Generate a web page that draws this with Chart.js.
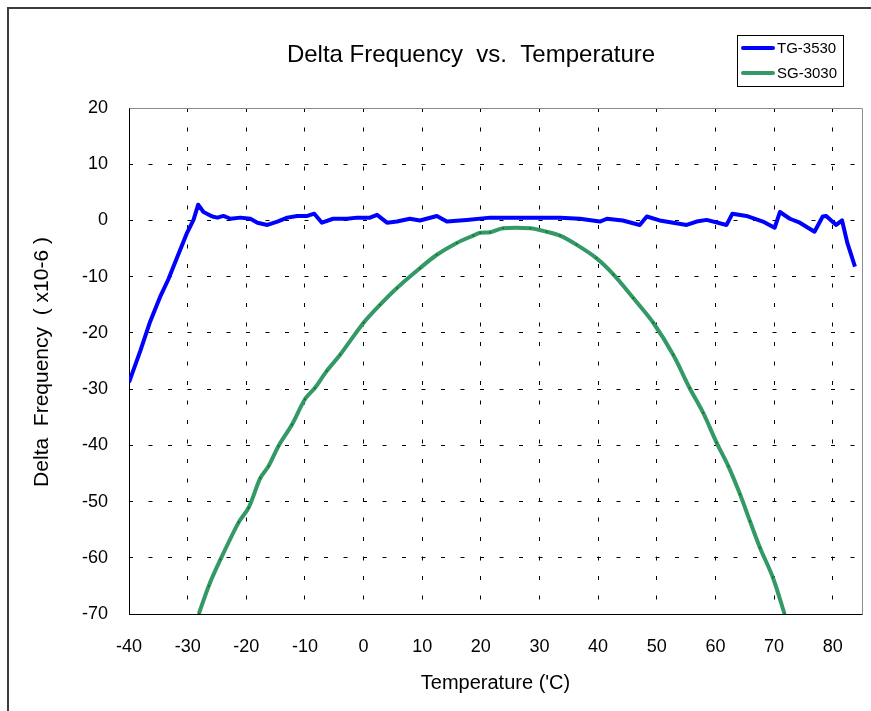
<!DOCTYPE html>
<html>
<head>
<meta charset="utf-8">
<script src="https://cdn.jsdelivr.net/npm/chart.js@4.4.1/dist/chart.umd.min.js"></script>
<style>
  html, body { margin: 0; padding: 0; background: #fff; }
  #wrap { width: 871px; height: 711px; }
</style>
</head>
<body>
<div id="wrap"><canvas id="chart" width="871" height="711"></canvas></div>
<script>
// TG-3530 readings
const tgTemp = [-40, -38.1, -36.4, -34.7, -33.3, -31.8, -30.1, -29.0, -28.2, -27.3,
    -25.8, -24.9, -23.9, -22.7, -21.0, -19.3, -18.1, -16.4, -14.7, -13.0,
    -11.3, -9.6, -8.4, -7.1, -5.2, -2.8, -1.1, 1.1, 2.3, 4.0,
    5.7, 7.9, 9.6, 12.5, 14.2, 17.6, 21.6, 25.0, 30.1, 33.5,
    36.9, 40.3, 41.5, 44.2, 47.1, 48.3, 50.5, 55.1, 56.8, 58.5,
    61.9, 62.9, 65.3, 68.1, 70.1, 71.0, 72.7, 74.4, 76.9, 78.3,
    78.9, 80.6, 81.6, 82.5, 83.8];
const tgFreq = [-28.8, -23.3, -18.0, -13.6, -10.5, -6.6, -2.2, 0.1, 2.8, 1.5,
    0.7, 0.5, 0.8, 0.3, 0.5, 0.3, -0.4, -0.8, -0.2, 0.5,
    0.8, 0.8, 1.2, -0.4, 0.3, 0.3, 0.5, 0.5, 1.0, -0.4,
    -0.2, 0.3, 0.0, 0.8, -0.2, 0.1, 0.5, 0.5, 0.5, 0.5,
    0.3, -0.2, 0.3, 0.0, -0.8, 0.7, 0.0, -0.8, -0.2, 0.1,
    -0.8, 1.2, 0.8, -0.2, -1.3, 1.5, 0.3, -0.4, -2.0, 0.7,
    0.8, -0.8, 0.0, -4.0, -8.2];

// SG-3030 readings
const sgTemp = [-28.1, -26.4, -24.4, -21.3, -19.6, -17.6, -16.2, -14.5, -12.2, -10.0,
    -8.3, -6.3, -4.0, 0.0, 2.8, 5.7, 9.6, 12.5, 15.9, 18.7,
    19.9, 21.6, 23.8, 28.4, 31.2, 33.5, 36.3, 39.7, 42.6, 46.0,
    49.4, 52.8, 55.6, 57.9, 60.2, 62.2, 64.2, 65.9, 67.6, 69.8,
    71.8];
const sgFreq = [-70.0, -65.0, -60.3, -53.7, -51.1, -45.8, -43.7, -40.1, -36.3, -31.8,
    -29.8, -26.8, -23.9, -18.2, -15.0, -12.0, -8.5, -6.1, -4.0, -2.7,
    -2.2, -2.1, -1.4, -1.4, -2.0, -2.7, -4.3, -6.7, -9.6, -13.8,
    -18.2, -23.9, -29.8, -34.2, -39.5, -43.7, -48.7, -53.5, -58.2, -63.5,
    -70.0];

const xTickValues = [-40, -30, -20, -10, 0, 10, 20, 30, 40, 50, 60, 70, 80];
const yTickValues = [-70, -60, -50, -40, -30, -20, -10, 0, 10, 20];

const FONT = '"Liberation Sans", Arial, sans-serif';

function toPoints(xs, ys) {
    return xs.map((x, i) => ({ x: x, y: ys[i] }));
}

// solid axes and gray top/right edges, drawn under the lines
const plotFrame = {
    id: 'plotFrame',
    beforeDatasetsDraw(chart) {
        const ctx = chart.ctx;
        const a = chart.chartArea;
        const l = Math.round(a.left) + 0.5;
        const b = Math.round(a.bottom) + 0.5;
        const t = Math.round(a.top) + 0.5;
        const r = Math.round(a.right) + 0.5;
        ctx.save();
        ctx.lineWidth = 1;
        ctx.strokeStyle = '#8c8c8c';
        ctx.beginPath();
        ctx.moveTo(l, t);
        ctx.lineTo(r, t);
        ctx.lineTo(r, b);
        ctx.stroke();
        ctx.strokeStyle = '#000';
        ctx.beginPath();
        ctx.moveTo(l, t);
        ctx.lineTo(l, b);
        ctx.lineTo(r, b);
        ctx.stroke();
        ctx.restore();
    }
};

// title, axis titles, legend box, outer frame
const decorations = {
    id: 'decorations',
    afterDraw(chart) {
        const ctx = chart.ctx;
        const area = chart.chartArea;
        ctx.save();

        // outer chart frame (only left and top are inside the picture)
        ctx.strokeStyle = '#3c3c3c';
        ctx.lineWidth = 2;
        ctx.beginPath();
        ctx.moveTo(8, 712);
        ctx.lineTo(8, 8);
        ctx.lineTo(872, 8);
        ctx.stroke();

        ctx.fillStyle = '#000';
        ctx.textAlign = 'center';
        ctx.textBaseline = 'middle';
        ctx.font = '24px ' + FONT;
        ctx.fillText('Delta Frequency  vs.  Temperature', 471, 55);

        ctx.font = '20px ' + FONT;
        ctx.fillText("Temperature ('C)", (area.left + area.right) / 2, 683);

        ctx.save();
        ctx.translate(42, 362);
        ctx.rotate(-Math.PI / 2);
        ctx.font = '21px ' + FONT;
        ctx.fillText('Delta  Frequency  ( x10-6 )', 0, 0);
        ctx.restore();

        // legend
        ctx.fillStyle = '#fff';
        ctx.fillRect(737, 35, 107, 52);
        ctx.strokeStyle = '#000';
        ctx.lineWidth = 1;
        ctx.strokeRect(737.5, 35.5, 106, 51);
        ctx.font = '15px ' + FONT;
        ctx.textAlign = 'left';
        chart.data.datasets.forEach((ds, i) => {
            const y = 48 + i * 25;
            ctx.strokeStyle = ds.borderColor;
            ctx.lineWidth = 4;
            ctx.lineCap = 'round';
            ctx.beginPath();
            ctx.moveTo(743, y);
            ctx.lineTo(773, y);
            ctx.stroke();
            ctx.fillStyle = '#000';
            ctx.fillText(ds.label, 777, y + 1);
        });
        ctx.restore();
    }
};

new Chart(document.getElementById('chart'), {
    type: 'line',
    data: {
        datasets: [
            {
                label: 'TG-3530',
                data: toPoints(tgTemp, tgFreq),
                borderColor: '#0000ff',
                borderWidth: 4,
                pointRadius: 0,
                tension: 0,
                borderJoinStyle: 'round'
            },
            {
                label: 'SG-3030',
                data: toPoints(sgTemp, sgFreq),
                borderColor: '#339966',
                borderWidth: 4,
                pointRadius: 1,
                pointBorderWidth: 0,
                pointBackgroundColor: '#137313',
                tension: 0.3,
                borderJoinStyle: 'round'
            }
        ]
    },
    options: {
        responsive: false,
        animation: false,
        layout: { padding: { top: 108, right: 9, left: 0, bottom: 0 } },
        plugins: {
            legend: { display: false },
            title: { display: false },
            tooltip: { enabled: false }
        },
        scales: {
            x: {
                type: 'linear',
                min: -40,
                max: 85,
                afterBuildTicks: scale => {
                    scale.ticks = xTickValues.map(v => ({ value: v }));
                },
                afterFit: scale => { scale.height = 97; },
                grid: { color: '#000', lineWidth: 1, drawTicks: false },
                border: { display: false, dash: [4, 15.5] },
                ticks: {
                    color: '#000',
                    padding: 22,
                    font: { family: FONT, size: 18 }
                }
            },
            y: {
                min: -70,
                max: 20,
                afterBuildTicks: scale => {
                    scale.ticks = yTickValues.map(v => ({ value: v }));
                },
                afterFit: scale => { scale.width = 129; },
                grid: { color: '#000', lineWidth: 1, drawTicks: false },
                border: { display: false, dash: [4, 15.5] },
                ticks: {
                    color: '#000',
                    padding: 21,
                    font: { family: FONT, size: 18 }
                }
            }
        }
    },
    plugins: [plotFrame, decorations]
});
</script>
</body>
</html>
